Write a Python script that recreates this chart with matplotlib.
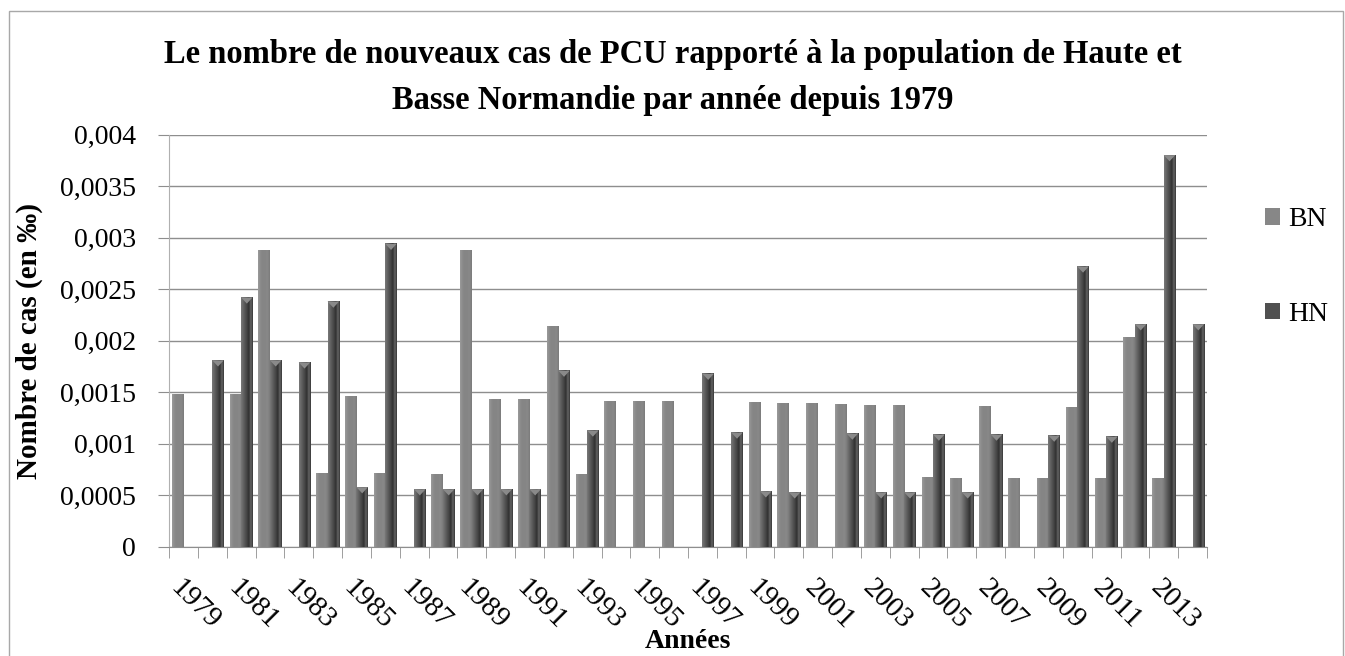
import numpy as np
import matplotlib
matplotlib.use("Agg")
import matplotlib.pyplot as plt
from matplotlib.patches import Rectangle, Polygon
from matplotlib.colors import LinearSegmentedColormap

# ── Data ───────────────────────────────────────────────────────────────────────
years = list(range(1979, 2015))

bn = [0.00148, 0, 0.00148, 0.00288, 0, 0.00071, 0.00146, 0.00071, 0, 0.00070,
      0.00288, 0.00143, 0.00143, 0.00214, 0.00070, 0.00141, 0.00141, 0.00141,
      0, 0, 0.00140, 0.00139, 0.00139, 0.00138, 0.00137, 0.00137, 0.00067,
      0.00066, 0.00136, 0.00066, 0.00066, 0.00135, 0.00066, 0.00203, 0.00066, 0]

hn = [0, 0.00181, 0.00242, 0.00181, 0.00179, 0.00238, 0.00058, 0.00294, 0.00056,
      0.00056, 0.00056, 0.00056, 0.00056, 0.00171, 0.00113, 0, 0, 0, 0.00168,
      0.00111, 0.00054, 0.00053, 0, 0.00110, 0.00053, 0.00053, 0.00109, 0.00053,
      0.00109, 0, 0.00108, 0.00272, 0.00107, 0.00216, 0.00380, 0.00216]

series_names = ["BN", "HN"]
y_ticks = [0, 0.0005, 0.001, 0.0015, 0.002, 0.0025, 0.003, 0.0035, 0.004]

title_l1 = "Le nombre de nouveaux cas de PCU rapporté à la population de Haute et"
title_l2 = "Basse Normandie par année depuis 1979"

SERIF = ["Liberation Serif", "DejaVu Serif"]
GRID = "#8e8e8e"

bn_cmap = LinearSegmentedColormap.from_list(
    "bn", ["#9c9c9c", "#8a8a8a", "#858585", "#858585", "#8a8a8a", "#7a7a7a"])
hn_cmap = LinearSegmentedColormap.from_list(
    "hn", ["#7a7a7a", "#666666", "#555555", "#444444", "#2e2e2e", "#6a6a6a", "#333333"])


def shade_bars(ax, bars, cmap, chevron=None):
    grad = np.linspace(0, 1, 64).reshape(1, -1)
    for p in bars:
        h = p.get_height()
        if h <= 0:
            continue
        x0, w = p.get_x(), p.get_width()
        ax.imshow(grad, extent=[x0, x0 + w, 0, h], aspect="auto", cmap=cmap,
                  interpolation="bicubic", zorder=3)
        if chevron:
            d = 0.00006
            ax.add_patch(Polygon([[x0, h], [x0 + w, h], [x0 + w / 2, h - d]],
                                 closed=True, facecolor=chevron,
                                 edgecolor="none", zorder=4))


# ── Plot ───────────────────────────────────────────────────────────────────────
fig = plt.figure(figsize=(13.45, 6.56), dpi=100)
ax = fig.add_axes([169 / 1345, 1 - 547 / 656, (1207 - 169) / 1345, (547 - 134.5) / 656])

x = np.arange(len(years))
w = 0.4
b1 = ax.bar(x - w / 2, bn, w, color="#878787", label=series_names[0], zorder=2)
b2 = ax.bar(x + w / 2, hn, w, color="#505050", label=series_names[1], zorder=2)
shade_bars(ax, b1, bn_cmap)
shade_bars(ax, b2, hn_cmap, chevron="#8a8a8a")

ax.set_xlim(-0.5, len(years) - 0.5)
ax.set_ylim(0, 0.004)
ax.set_yticks(y_ticks)
ax.set_yticklabels([("%g" % v).replace(".", ",") for v in y_ticks],
                   fontsize=20, family=SERIF)
ax.yaxis.grid(True, color=GRID, lw=1)
ax.set_axisbelow(True)

ax.set_xticks(x[::2])
ax.set_xticklabels([str(y) for y in years[::2]], rotation=-45, ha="left",
                   rotation_mode="anchor", fontsize=21, family=SERIF)
ax.set_xticks(np.arange(-0.5, len(years)), minor=True)
ax.tick_params(axis="x", which="major", length=0, pad=20)
ax.tick_params(axis="x", which="minor", length=8, color=GRID, direction="out")
ax.tick_params(axis="y", length=8, color=GRID, pad=16)

for s in ["top", "right"]:
    ax.spines[s].set_visible(False)
ax.spines["left"].set_color("#b0b0b0")
ax.spines["bottom"].set_color(GRID)

ax.set_ylabel("Nombre de cas (en ‰)", fontsize=21, fontweight="bold",
              family=SERIF)
ax.yaxis.set_label_coords(-0.121, 0.5)
fig.text(688 / 1345, 1 - 641 / 656, "Années", ha="center", va="center",
         fontsize=20, fontweight="bold", family=SERIF)

fig.text(0.5, 1 - 55 / 656, title_l1, ha="center", va="center",
         fontsize=23.5, fontweight="bold", family=SERIF)
fig.text(0.5, 1 - 100 / 656, title_l2, ha="center", va="center",
         fontsize=23.5, fontweight="bold", family=SERIF)

# legend
leg = ax.legend(loc="upper left", bbox_to_anchor=(1.045, 0.85), frameon=False,
                prop={"family": SERIF, "size": 20}, handlelength=0.55,
                handleheight=0.55, handletextpad=0.3, labelspacing=2.5,
                borderaxespad=0)

fig.patches.append(Rectangle((9 / 1345, -0.05), (1343 - 9) / 1345, 1.05 - 11 / 656,
                             transform=fig.transFigure, fill=False,
                             edgecolor="#a8a8a8", lw=1))

fig.savefig("out.png", dpi=100)
